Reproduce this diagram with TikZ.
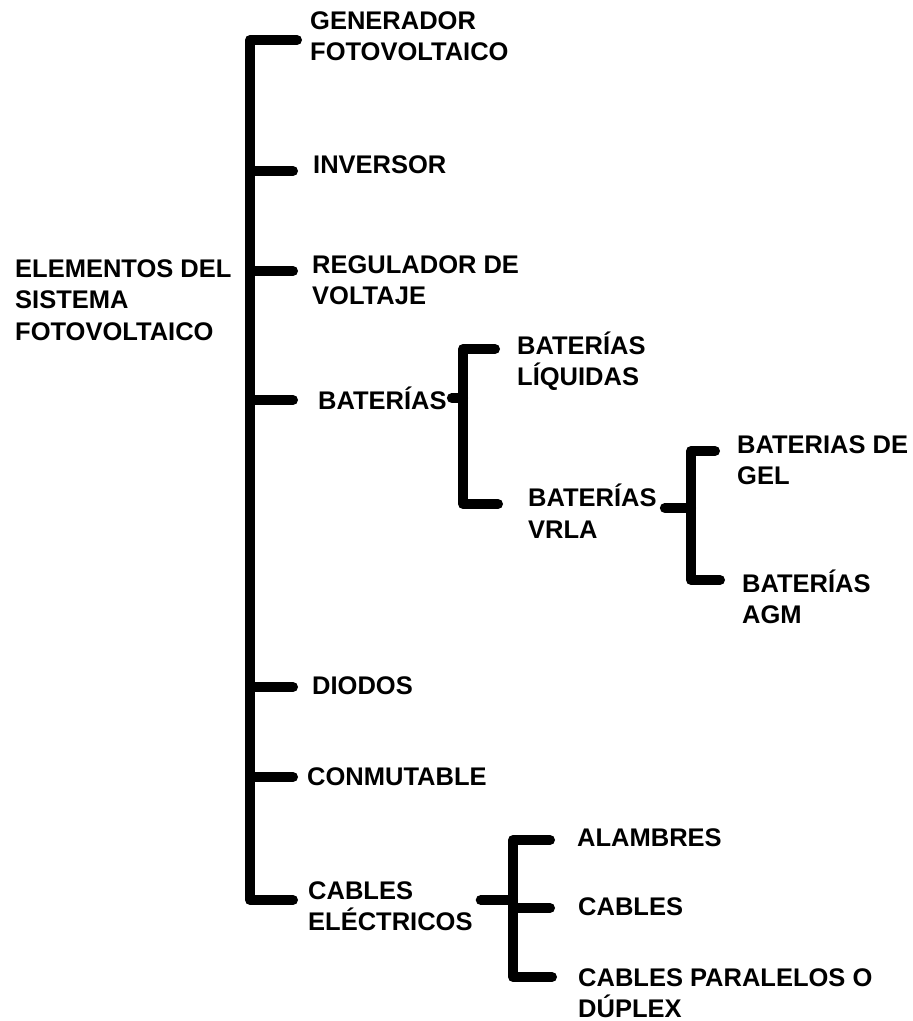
\documentclass[tikz,border=0pt]{standalone}
\usepackage{fontspec}
\setmainfont{Liberation Sans}
\usepackage{tikz}

\begin{document}
\begin{tikzpicture}[x=1pt,y=-1pt,
  lbl/.style={anchor=west,inner sep=0pt,align=left,
    font=\bfseries\fontsize{25.5}{31.5}\selectfont},
  bar/.style={line width=10pt,line cap=round,line join=round}]
  \useasboundingbox (0,0) rectangle (913,1021);

  % Textos
  \node[lbl] (root) at (15,300) {ELEMENTOS DEL\\SISTEMA\\FOTOVOLTAICO};
  \node[lbl] (gen)  at (310,36)  {GENERADOR\\FOTOVOLTAICO};
  \node[lbl] (inv)  at (313,165) {INVERSOR};
  \node[lbl] (reg)  at (312,280) {REGULADOR DE\\VOLTAJE};
  \node[lbl] (bat)  at (318,398) {BATERÍAS};
  \node[lbl] (dio)  at (312,686) {DIODOS};
  \node[lbl] (con)  at (307,777) {CONMUTABLE};
  \node[lbl] (cab)  at (308,906) {CABLES\\ELÉCTRICOS};
  \node[lbl] (liq)  at (517,361) {BATERÍAS\\LÍQUIDAS};
  \node[lbl] (vrla) at (528,511) {BATERÍAS\\VRLA};
  \node[lbl] (gel)  at (737,460) {BATERIAS DE\\GEL};
  \node[lbl] (agm)  at (742,597) {BATERÍAS\\AGM};
  \node[lbl] (ala)  at (577,838) {ALAMBRES};
  \node[lbl] (cbl)  at (578,907) {CABLES};
  \node[lbl] (par)  at (578,993) {CABLES PARALELOS O\\DÚPLEX};

  % Llave principal
  \coordinate (mTop) at (250,40);
  \coordinate (mBot) at (250,900);
  \draw[bar] (297,40) -- (mTop) -- (mBot) -- (293,900);
  \foreach \y in {171,271,400,687,777} {
    \draw[bar] (250,\y) -- (293,\y);
  }

  % Baterias
  \coordinate (bJ) at (463,398);
  \draw[bar] ([xshift=5pt]bat.east) -- (bJ);
  \draw[bar] (495,349) -- (463,349) -- (463,504) -- (498,504);

  % VRLA
  \coordinate (vJ) at (691,508);
  \draw[bar] ([xshift=8pt]vrla.east |- vJ) -- (vJ);
  \draw[bar] (715,451) -- (691,451) -- (691,580) -- (720,580);

  % Cables
  \coordinate (cJ) at (513,900);
  \draw[bar] ([xshift=8pt]cab.east |- cJ) -- (cJ);
  \draw[bar] (550,840) -- (513,840) -- (513,977) -- (552,977);
  \draw[bar] (513,908) -- (550,908);

\end{tikzpicture}
\end{document}
